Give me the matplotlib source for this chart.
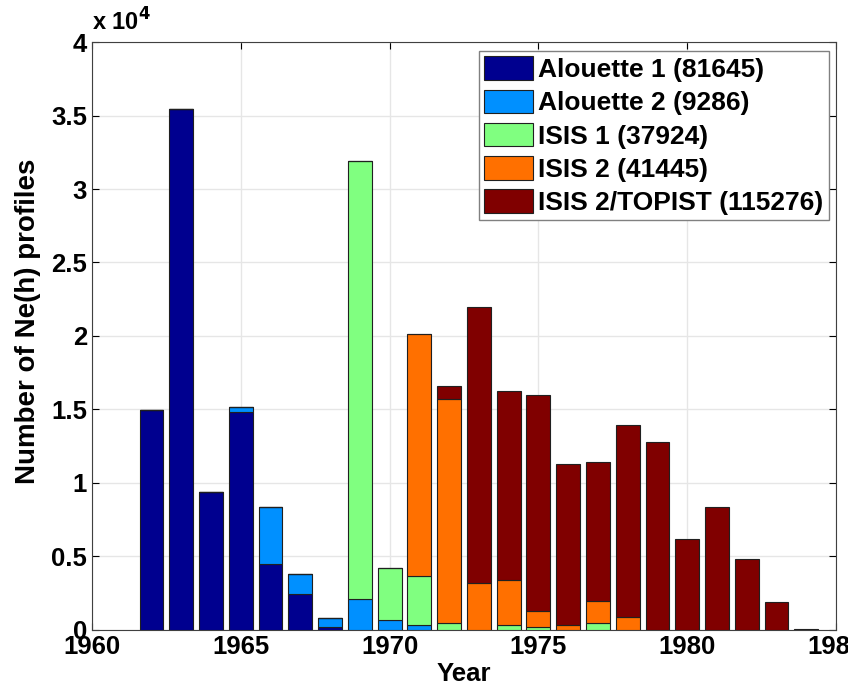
import numpy as np
import matplotlib
matplotlib.use('Agg')
import matplotlib.pyplot as plt
from matplotlib.ticker import FuncFormatter

years = np.arange(1962, 1985)

# profiles per year for each satellite
alouette1 = [14950, 35455, 9390, 14840, 4440, 2420, 150, 0, 0, 0, 0, 0,
             0, 0, 0, 0, 0, 0, 0, 0, 0, 0, 0]
alouette2 = [0, 0, 0, 340, 3900, 1380, 610, 2100, 650, 300, 0, 0,
             0, 0, 0, 0, 0, 0, 0, 0, 0, 0, 0]
isis1 = [0, 0, 0, 0, 0, 0, 0, 29790, 3520, 3340, 420, 0,
         300, 150, 0, 420, 0, 0, 0, 0, 0, 0, 0]
isis2 = [0, 0, 0, 0, 0, 0, 0, 0, 0, 16470, 15280, 3190,
         3080, 1140, 300, 1550, 870, 0, 0, 0, 0, 0, 0]
topist = [0, 0, 0, 0, 0, 0, 0, 0, 0, 0, 910, 18800,
          12890, 14680, 10970, 9440, 13060, 12790, 6160, 8320, 4800, 1850, 60]

labels = ['Alouette 1 (81645)', 'Alouette 2 (9286)', 'ISIS 1 (37924)',
          'ISIS 2 (41445)', 'ISIS 2/TOPIST (115276)']
colors = ['#00008f', '#0090ff', '#80ff80', '#ff7000', '#800000']

plt.rcParams['font.family'] = ['Liberation Sans', 'DejaVu Sans']
plt.rcParams['font.weight'] = 'bold'

fig = plt.figure(figsize=(8.48, 6.91), dpi=100)
ax = fig.add_axes([92/848, 1-629.5/691, (836-92)/848, (629.5-42.3)/691])

bottom = np.zeros(len(years))
for vals, lab, col in zip([alouette1, alouette2, isis1, isis2, topist], labels, colors):
    vals = np.array(vals, dtype=float)
    ax.bar(years, vals, width=0.8, bottom=bottom, color=col, edgecolor='#202020',
           linewidth=0.8, label=lab, zorder=3)
    bottom += vals

ax.set_xlim(1960, 1985)
ax.set_ylim(0, 40000)
ax.set_xticks(np.arange(1960, 1986, 5))
ax.set_yticks(np.arange(0, 40001, 5000))
ax.yaxis.set_major_formatter(FuncFormatter(lambda v, p: f'{v/1e4:g}'))
ax.tick_params(direction='in', top=True, right=True, labelsize=18.5, length=5)
ax.tick_params(axis='x', pad=4)
ax.grid(True, color='#e6e6e6', linewidth=1, zorder=0)
for s in ax.spines.values():
    s.set_color('#404040')

ax.text(0.0, 1.012, r'x 10$^4$', transform=ax.transAxes, fontsize=17,
        fontweight='bold', ha='left', va='bottom')

ax.set_xlabel('Year', fontsize=18.5, fontweight='bold', labelpad=2)
ax.set_ylabel('Number of Ne(h) profiles', fontsize=20, fontweight='bold')
ax.yaxis.set_label_coords(-0.068, 0.525)

ax.legend(loc='upper right', fontsize=19, frameon=True, fancybox=False,
          edgecolor='#808080', framealpha=1, handlelength=1.85, handleheight=1.0,
          handletextpad=0.2, labelspacing=0.28, borderpad=0.2, borderaxespad=0,
          bbox_to_anchor=(0.99, 0.985))

fig.savefig('out.png', dpi=100)
